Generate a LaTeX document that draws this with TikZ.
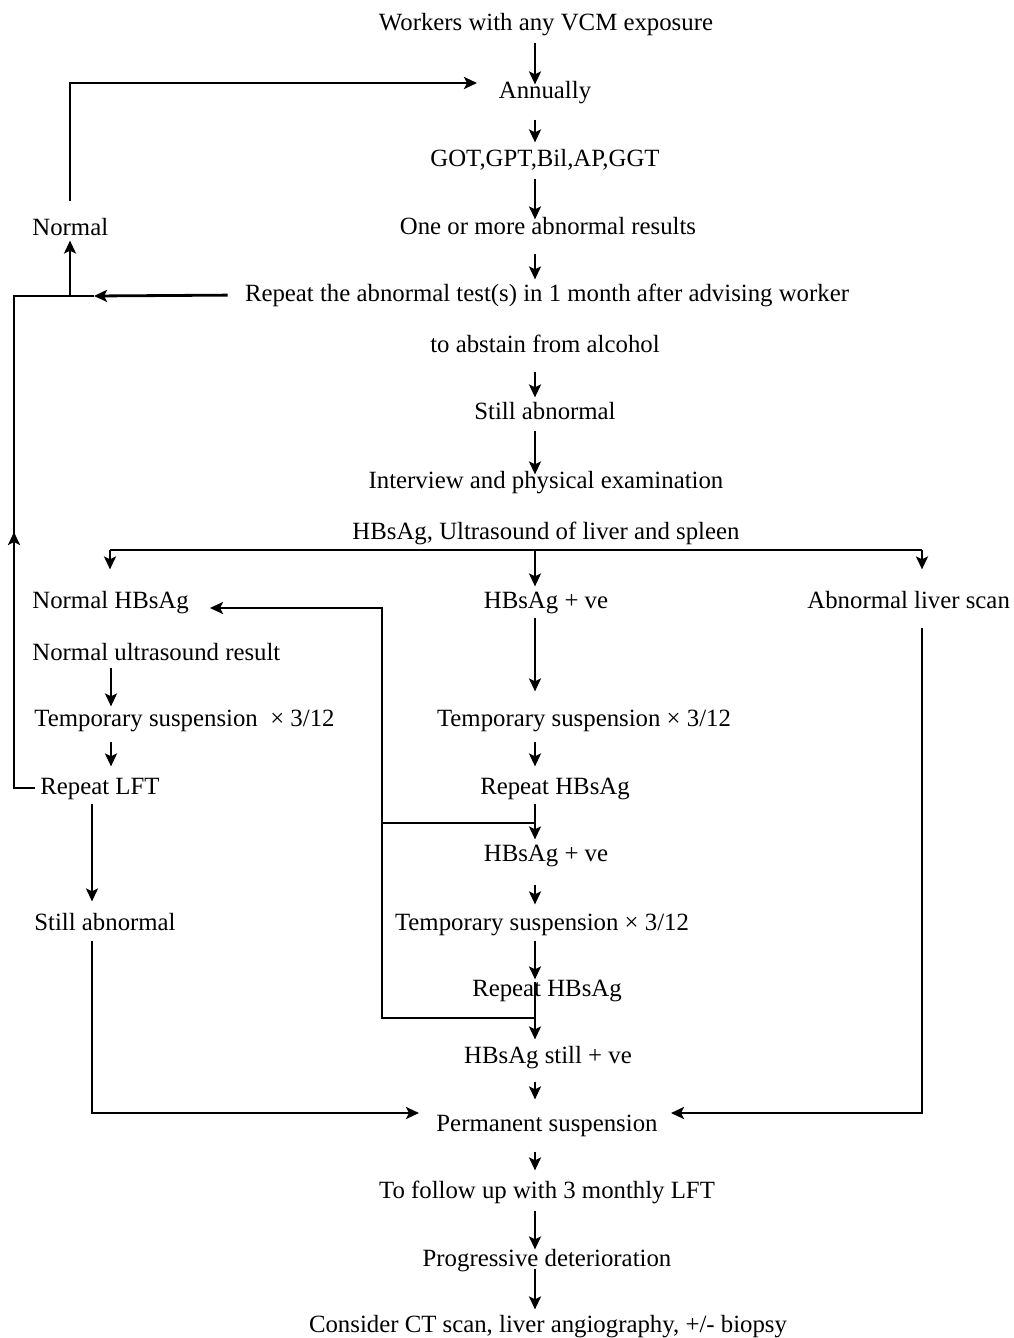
\documentclass[tikz,border=0pt]{standalone}
\usepackage{fontspec}
\setmainfont{Liberation Serif}
\usepackage{tikz}
\usetikzlibrary{arrows.meta}

\begin{document}
\begin{tikzpicture}[
  x=0.5pt, y=-0.5pt,
  font=\fontsize{12.4}{15}\selectfont,
  txt/.style={inner sep=0pt, text height=8.7pt, text depth=2.5pt},
  lft/.style={txt, anchor=west},
  ln/.style={line width=1.4pt},
  arr/.style={ln, -{Stealth[length=6.5pt,width=6pt,inset=1.5pt]}}
]
\useasboundingbox (0,0) rectangle (1013,1338);
\coordinate (sp) at (535,0);
\coordinate (cL1) at (111,0);
\coordinate (cL2) at (92,0);
\coordinate (cR) at (922,0);
\coordinate (cB) at (14,0);

% Main column
\node[txt] (work) at (546,24) {Workers with any VCM exposure};
\node[txt] (ann) at (545,92) {Annually};
\node[txt] (got) at (545,160) {GOT,GPT,Bil,AP,GGT};
\node[txt] (one) at (548,228) {One or more abnormal results};
\node[txt] (rep1) at (547,295) {Repeat the abnormal test(s) in 1 month after advising worker};
\node[txt] (abst) at (545,346) {to abstain from alcohol};
\node[txt] (still1) at (545,413) {Still abnormal};
\node[txt] (intv) at (546,482) {Interview and physical examination};
\node[txt] (hbus) at (546,533) {HBsAg, Ultrasound of liver and spleen};
\draw[arr, shorten <=3.5pt, shorten >=-2pt] (work.south -| sp) -- (ann.north -| sp);
\draw[arr, shorten <=8pt, shorten >=3pt] (ann.south -| sp) -- (got.north -| sp);
\draw[arr, shorten <=3.5pt, shorten >=-1.5pt] (got.south -| sp) -- (one.north -| sp);
\draw[arr, shorten <=7pt, shorten >=2pt] (one.south -| sp) -- (rep1.north -| sp);
\draw[arr, shorten <=7pt, shorten >=2pt] (abst.south -| sp) -- (still1.north -| sp);
\draw[arr, shorten <=3pt, shorten >=-2pt] (still1.south -| sp) -- (intv.north -| sp);

% Normal loop
\node[lft] (norm) at (32,229) {Normal};
\coordinate (jn) at (70,296);
\coordinate (ha) at (94,296);
\coordinate (ta) at (477,83);
\coordinate (cu0) at (14,590);
\coordinate (cu) at (14,532);
\draw[arr, shorten <=8.5pt] (rep1.west) -- (ha);
\draw[ln] (ha) -- (jn);
\draw[arr] (jn) -- (norm.south -| jn);
\draw[arr, shorten <=8pt] (norm.north -| jn) |- (ta);

% Three branches
\coordinate (bl) at (110,550);
\coordinate (br) at (922,550);
\draw[ln] (bl) -- (br);
\node[lft] (nhb) at (32,602) {Normal HBsAg};
\node[txt] (pos1) at (546,602) {HBsAg + ve};
\node[lft] (abn) at (807,602) {Abnormal liver scan};
\draw[arr, shorten >=10.5pt] (bl) -- (nhb.north -| bl);
\draw[arr, shorten >=2pt] (bl -| sp) -- (pos1.north -| sp);
\draw[arr, shorten >=10.5pt] (br) -- (abn.north -| br);

% Left branch
\node[lft] (nus) at (32,654) {Normal ultrasound result};
\node[lft] (tmpL) at (34,720) {Temporary suspension~ × 3/12};
\node[lft] (rlft) at (40,788) {Repeat LFT};
\node[lft] (stillL) at (34,924) {Still abnormal};
\draw[arr, shorten <=1pt, shorten >=1pt] (nus.south -| cL1) -- (tmpL.north -| cL1);
\draw[arr, shorten <=5pt, shorten >=5pt] (tmpL.south -| cL1) -- (rlft.north -| cL1);
\draw[arr, shorten <=2pt, shorten >=5.5pt] (rlft.south -| cL2) -- (stillL.north -| cL2);
\draw[ln, shorten <=2.5pt] (rlft.west) -- (rlft.west -| cB) |- (jn);
\draw[arr] (cu0) -- (cu);

% Centre branch
\node[txt] (tmp1) at (584,720) {Temporary suspension × 3/12};
\node[txt] (rh1) at (555,788) {Repeat HBsAg};
\node[txt] (pos2) at (546,855) {HBsAg + ve};
\node[txt] (tmp2) at (542,924) {Temporary suspension × 3/12};
\node[txt] (rh2) at (547,990) {Repeat HBsAg};
\node[txt] (hsp) at (548,1057) {HBsAg still + ve};
\draw[arr, shorten <=2pt, shorten >=8.5pt] (pos1.south -| sp) -- (tmp1.north -| sp);
\draw[arr, shorten <=5pt, shorten >=5pt] (tmp1.south -| sp) -- (rh1.north -| sp);
\draw[arr, shorten <=2pt, shorten >=2pt] (rh1.south -| sp) -- (pos2.north -| sp);
\draw[arr, shorten <=9pt, shorten >=4pt] (pos2.south -| sp) -- (tmp2.north -| sp);
\draw[arr, shorten <=2.5pt, shorten >=-0.5pt] (tmp2.south -| sp) -- (rh2.north -| sp);
\draw[arr, shorten <=-10pt, shorten >=3pt] (rh2.south -| sp) -- (hsp.north -| sp);

% Back to Normal HBsAg
\coordinate (lb1) at (382,823);
\coordinate (lb2) at (382,1018);
\coordinate (tn) at (210,608);
\draw[ln] (lb1 -| sp) -- (lb1);
\draw[arr] (lb2 -| sp) -- (lb2) |- (tn);

% Permanent suspension
\node[txt] (perm) at (547,1125) {Permanent suspension};
\node[txt] (fol) at (547,1192) {To follow up with 3 monthly LFT};
\node[txt] (prog) at (547,1260) {Progressive deterioration};
\node[txt] (cons) at (548,1326) {Consider CT scan, liver angiography, +/- biopsy};
\coordinate (pl) at (419,1113);
\coordinate (pr) at (671,1113);
\draw[arr, shorten <=2.5pt] (stillL.south -| cL2) |- (pl);
\draw[arr, shorten <=7pt] (abn.south -| cR) |- (pr);
\draw[arr, shorten <=6.5pt, shorten >=7pt] (hsp.south -| sp) -- (perm.north -| sp);
\draw[arr, shorten <=7.5pt, shorten >=5pt] (perm.south -| sp) -- (fol.north -| sp);
\draw[arr, shorten <=3.5pt, shorten >=-0.5pt] (fol.south -| sp) -- (prog.north -| sp);
\draw[arr, shorten <=-1.5pt, shorten >=2.5pt] (prog.south -| sp) -- (cons.north -| sp);
\end{tikzpicture}
\end{document}
